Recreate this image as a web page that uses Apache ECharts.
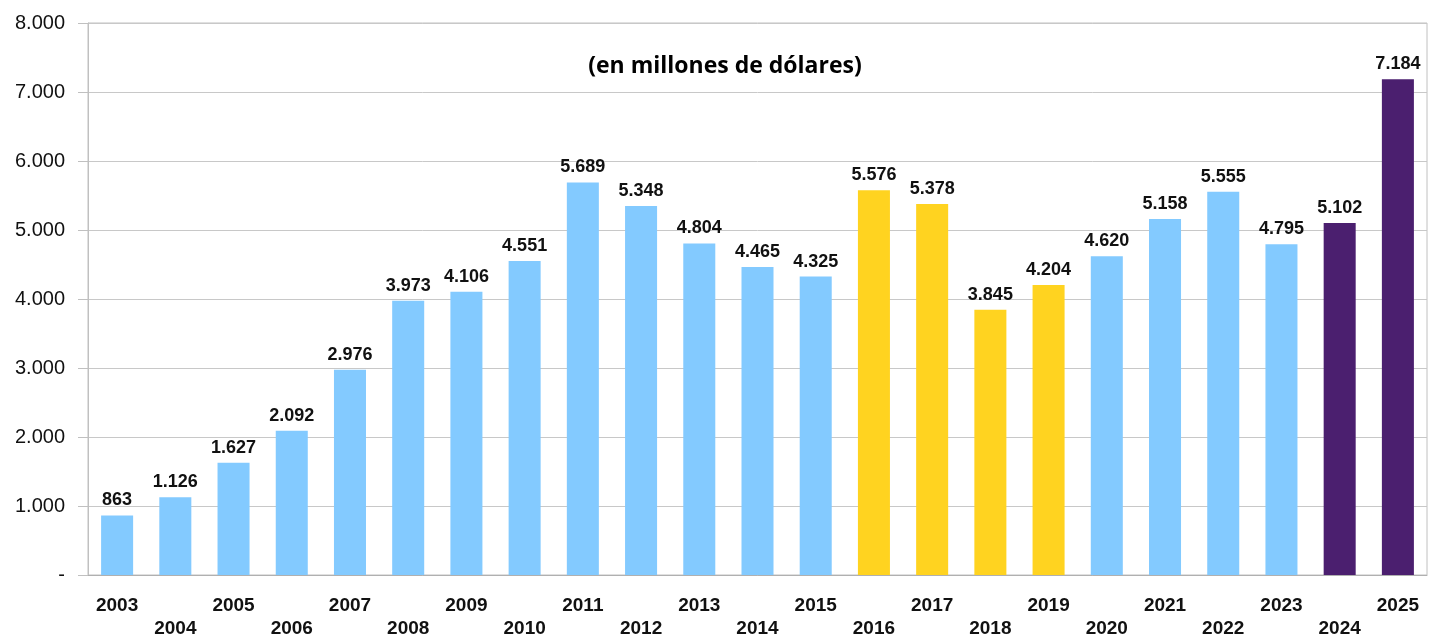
<!DOCTYPE html>
<html>
<head>
<meta charset="utf-8">
<script src="https://cdn.jsdelivr.net/npm/echarts@6/dist/echarts.min.js"></script>
<style>
html,body{margin:0;padding:0;background:#fff;}
#chart{width:1439px;height:636px;}
</style>
</head>
<body>
<div id="chart"></div>
<script>
// años y montos (millones de dólares)
var years = ['2003','2004','2005','2006','2007','2008','2009','2010','2011','2012','2013','2014',
	'2015','2016','2017','2018','2019','2020','2021','2022','2023','2024','2025'];
var values = [863, 1126, 1627, 2092, 2976, 3973, 4106, 4551, 5689, 5348, 4804, 4465,
	4325, 5576, 5378, 3845, 4204, 4620, 5158, 5555, 4795, 5102, 7184];
var yellowYears = ['2016','2017','2018','2019'];
var purpleYears = ['2024','2025'];

function fmt(v){
	if (v === 0) return '-';
	return String(v).replace(/\B(?=(\d{3})+(?!\d))/g, '.');
}

function barColor(p){
	var y = years[p.dataIndex];
	if (yellowYears.indexOf(y) >= 0) return '#FFD320';
	if (purpleYears.indexOf(y) >= 0) return '#4B1F6F';
	return '#83CAFF';
}

var chart = echarts.init(document.getElementById('chart'));
var option = {
	animation: false,
	title: {
		text: '(en millones de dólares)',
		left: 720,
		top: 50,
		textAlign: 'center',
		textStyle: {fontFamily: 'Open Sans', fontWeight: 'bold', fontSize: 23, color: '#000'}
	},
	grid: {
		left: 88, right: 12, top: 23, bottom: 61,
		outerBoundsMode: 'none',
		show: true, borderColor: '#c0c0c0', borderWidth: 1
	},
	xAxis: {
		type: 'category',
		data: years,
		axisLine: {lineStyle: {color: '#b0b0b0'}},
		axisTick: {length: 10, lineStyle: {color: '#b0b0b0'}},
		axisLabel: {
			interval: 0,
			margin: 19,
			fontFamily: 'Liberation Sans',
			fontWeight: 'bold',
			fontSize: 19,
			color: '#111',
			lineHeight: 23,
			formatter: function(v, i){ return i % 2 ? '\n' + v : v; }
		}
	},
	yAxis: {
		type: 'value',
		min: 0, max: 8000, interval: 1000,
		axisLine: {show: true, lineStyle: {color: '#c0c0c0'}},
		axisTick: {show: true, length: 10, lineStyle: {color: '#c0c0c0'}},
		splitLine: {lineStyle: {color: '#c8c8c8'}},
		axisLabel: {
			margin: 23,
			fontFamily: 'Liberation Sans',
			fontSize: 20,
			color: '#111',
			formatter: fmt
		}
	},
	series: [{
		type: 'bar',
		data: values,
		barWidth: '55%',
		itemStyle: {color: barColor},
		label: {
			show: true,
			position: 'top',
			distance: 6,
			fontFamily: 'Liberation Sans',
			fontWeight: 'bold',
			fontSize: 18,
			color: '#111',
			formatter: function(p){ return fmt(p.value); }
		}
	}]
};
chart.setOption(option);
</script>
</body>
</html>
